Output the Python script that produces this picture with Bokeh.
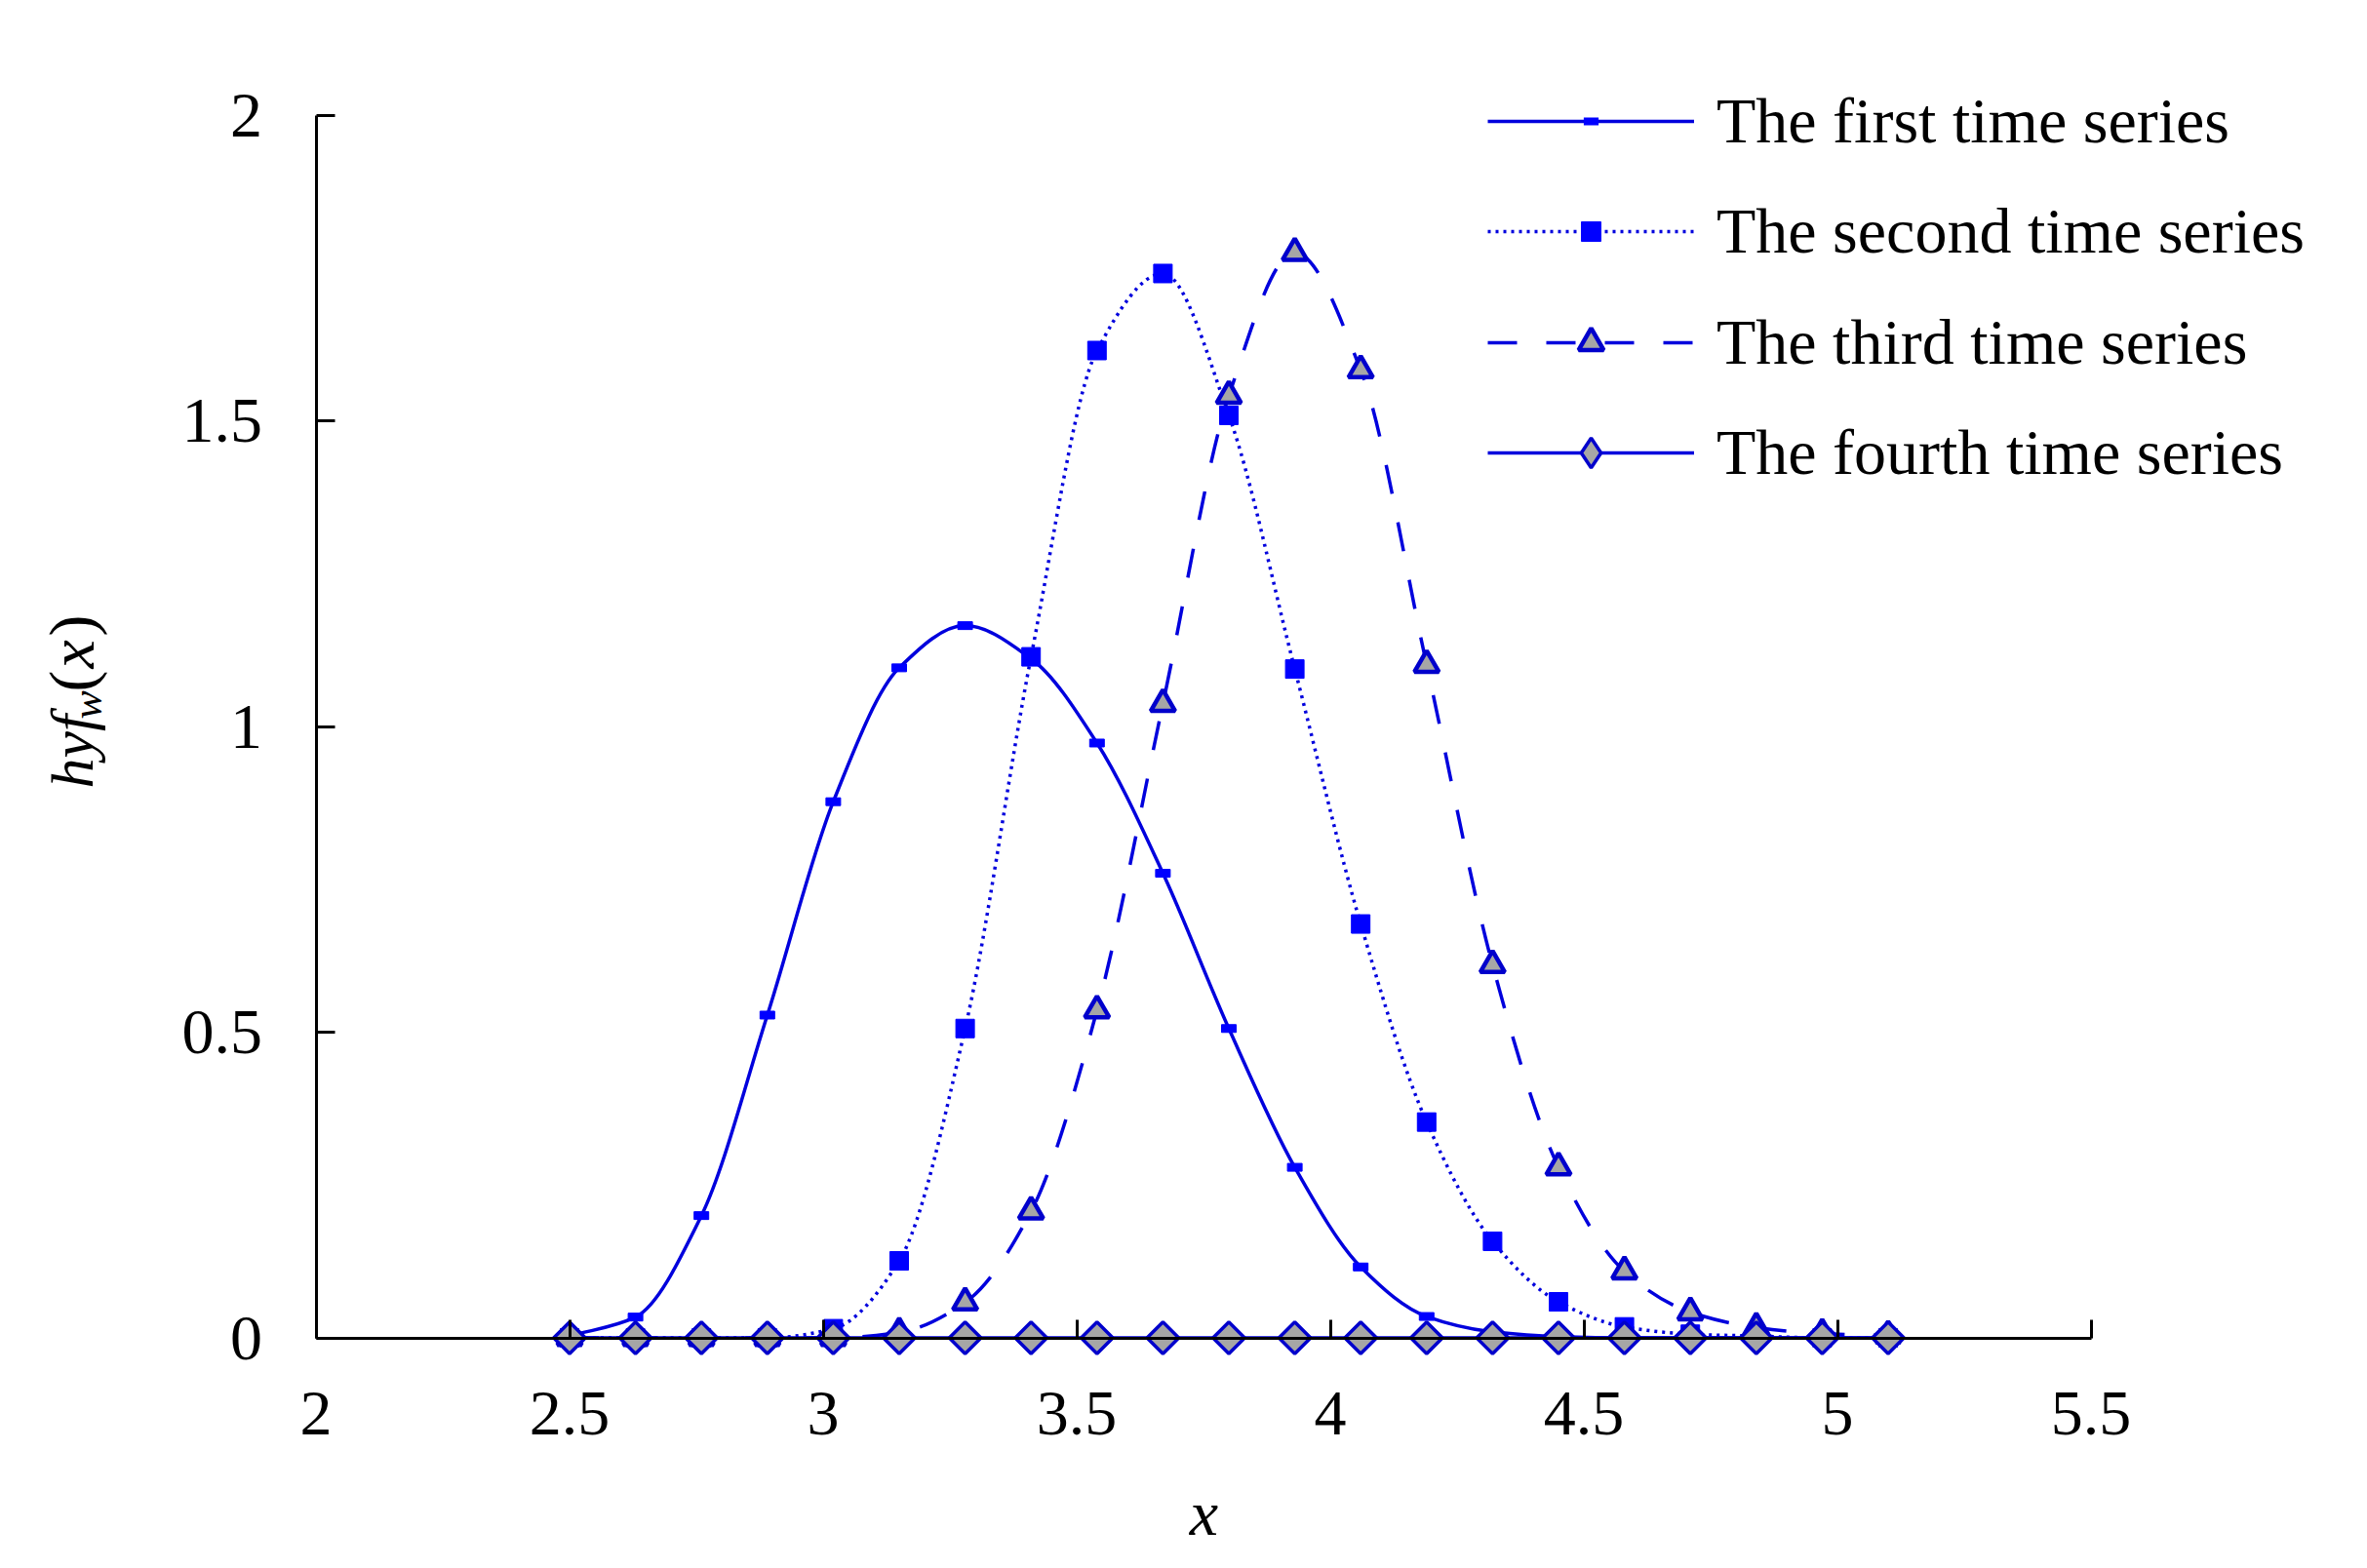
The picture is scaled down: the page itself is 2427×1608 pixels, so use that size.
import numpy as np
from bokeh.plotting import figure
from bokeh.models import Range1d, FixedTicker, Legend, LegendItem, Label, ColumnDataSource
from bokeh.embed import file_html
from bokeh.resources import INLINE

# ---------------- data ----------------
x_vals = [2.50, 2.63, 2.76, 2.89, 3.02, 3.15, 3.28, 3.41, 3.54, 3.67, 3.80,
          3.93, 4.06, 4.19, 4.32, 4.45, 4.58, 4.71, 4.84, 4.97, 5.10]
series1 = [0.003, 0.034, 0.200, 0.528, 0.877, 1.096, 1.165, 1.111, 0.973, 0.760, 0.506,
           0.279, 0.116, 0.035, 0.010, 0.002, 0.0, 0.0, 0.0, 0.0, 0.0]
series2 = [0.0, 0.0, 0.0, 0.0, 0.015, 0.126, 0.506, 1.114, 1.615, 1.741, 1.509,
           1.094, 0.677, 0.353, 0.158, 0.059, 0.018, 0.006, 0.003, 0.0, 0.0]
series3 = [0.0, 0.0, 0.0, 0.0, 0.0, 0.009, 0.058, 0.207, 0.536, 1.037, 1.541,
           1.775, 1.583, 1.101, 0.610, 0.279, 0.109, 0.042, 0.017, 0.007, 0.004]
series4 = [0.0, 0.0, 0.0, 0.0, 0.0, 0.0, 0.0, 0.0, 0.0, 0.0, 0.0,
           0.0, 0.0, 0.0, 0.0, 0.0, 0.0, 0.0, 0.0, 0.0, 0.0]
series_names = ["The first time series", "The second time series",
                "The third time series", "The fourth time series"]

x_ticks = [2, 2.5, 3, 3.5, 4, 4.5, 5, 5.5]
x_tick_labels = ["2", "2.5", "3", "3.5", "4", "4.5", "5", "5.5"]
y_ticks = [0, 0.5, 1, 1.5, 2]
y_tick_labels = ["0", "0.5", "1", "1.5", "2"]

# ---------------- style / layout ----------------
FONT = "Liberation Serif"
FS = "66px"
LINE_BLUE = "#0000dd"
MARK_BLUE = "#0000ff"
EDGE_BLUE = "#0000cc"
GRAY = "#a6a6a6"
LW = 3.5

FIG_W, FIG_H = 2410, 1590
AX_X_PX, AX_Y_PX = 323.5, 1371.5      # canvas position of the axes corner (x=2, y=0)
PX_X, PX_Y = 520.0, 626.95            # pixels per data unit
X_START = 2 - AX_X_PX / PX_X
X_END = X_START + FIG_W / PX_X
Y_END = AX_Y_PX / PX_Y
Y_START = Y_END - FIG_H / PX_Y


def smooth_segments(xs, ys, period=None):
    """Monotone cubic (Fritsch-Carlson) Bezier pieces between the data points."""
    xs = np.asarray(xs, float)
    ys = np.asarray(ys, float)
    n = len(xs)
    h = np.diff(xs)
    d = np.diff(ys) / h
    m = np.zeros(n)
    for i in range(1, n - 1):
        if d[i - 1] * d[i] > 0:
            w1 = 2 * h[i] + h[i - 1]
            w2 = h[i] + 2 * h[i - 1]
            m[i] = (w1 + w2) / (w1 / d[i - 1] + w2 / d[i])
    m[0] = d[0]
    m[-1] = d[-1]
    data = dict(x0=xs[:-1], y0=ys[:-1], x1=xs[1:], y1=ys[1:],
                cx0=xs[:-1] + h / 3, cy0=ys[:-1] + m[:-1] * h / 3,
                cx1=xs[1:] - h / 3, cy1=ys[1:] - m[1:] * h / 3)
    t = np.linspace(0, 1, 60)[:, None]
    bx = ((1 - t) ** 3 * data["x0"] + 3 * (1 - t) ** 2 * t * data["cx0"]
          + 3 * (1 - t) * t ** 2 * data["cx1"] + t ** 3 * data["x1"]) * PX_X
    by = ((1 - t) ** 3 * data["y0"] + 3 * (1 - t) ** 2 * t * data["cy0"]
          + 3 * (1 - t) * t ** 2 * data["cy1"] + t ** 3 * data["y1"]) * PX_Y
    seg_len = np.sqrt(np.diff(bx, axis=0) ** 2 + np.diff(by, axis=0) ** 2).sum(axis=0)
    start = np.concatenate([[0.0], np.cumsum(seg_len)[:-1]])
    if period:
        data["off"] = [int(round(v)) for v in np.mod(start, period)]
    else:
        data["off"] = [0] * (n - 1)
    return ColumnDataSource(data)


p = figure(frame_width=FIG_W, frame_height=FIG_H,
           min_border_left=0, min_border_top=0, min_border_right=0, min_border_bottom=0,
           x_range=Range1d(X_START, X_END), y_range=Range1d(Y_START, Y_END),
           output_backend="svg", toolbar_location=None,
           background_fill_color="white", border_fill_color="white")
p.outline_line_color = None
p.grid.visible = False

# ---------------- axes ----------------
xa = p.xaxis[0]
xa.fixed_location = 0
xa.bounds = (2, 5.5)
xa.ticker = FixedTicker(ticks=x_ticks)
xa.major_label_overrides = dict(zip(x_ticks, x_tick_labels))
xa.axis_label = "x"
xa.axis_label_text_font = FONT
xa.axis_label_text_font_style = "italic"
xa.axis_label_text_font_size = FS
xa.axis_label_text_color = "black"
xa.axis_label_standoff = 40
ya = p.yaxis[0]
ya.fixed_location = 2
ya.bounds = (0, 2)
ya.ticker = FixedTicker(ticks=y_ticks)
ya.major_label_overrides = dict(zip(y_ticks, y_tick_labels))
for ax in (xa, ya):
    ax.axis_line_width = 3
    ax.axis_line_color = "black"
    ax.major_tick_line_width = 3
    ax.major_tick_line_color = "black"
    ax.major_tick_in = 19
    ax.major_tick_out = 0
    ax.minor_tick_line_color = None
    ax.major_label_text_font = FONT
    ax.major_label_text_font_size = FS
    ax.major_label_text_color = "black"
xa.major_label_standoff = 56
ya.major_label_standoff = 55


def add_curve(ys, dash, period):
    src = smooth_segments(x_vals, ys, period)
    kw = dict(x0="x0", y0="y0", x1="x1", y1="y1", cx0="cx0", cy0="cy0",
              cx1="cx1", cy1="cy1", source=src, line_color=LINE_BLUE, line_width=LW)
    try:
        p.bezier(line_dash=dash, line_dash_offset="off", **kw)
    except Exception:
        p.bezier(line_dash=dash, **kw)
    # legend sample line (a single empty point, nothing is drawn in the plot)
    return p.line(x=[np.nan], y=[np.nan], line_color=LINE_BLUE, line_width=LW,
                  line_dash=dash)


leg1 = add_curve(series1, "solid", None)
p.rect(x=x_vals, y=series1, width=15, height=8, width_units="screen",
       height_units="screen", fill_color=MARK_BLUE, line_color=MARK_BLUE, line_width=1)
mk1 = p.scatter(x=[np.nan], y=[np.nan], marker="dash", line_width=8, line_color=MARK_BLUE)

leg2 = add_curve(series2, "3 5", 8)
mk2 = p.scatter(x_vals, series2, marker="square", size=19, fill_color=MARK_BLUE,
                line_color=MARK_BLUE, line_width=1)

leg3 = add_curve(series3, "30 30", 60)
mk3 = p.scatter(x_vals, series3, marker="triangle", size=25, fill_color=GRAY,
                line_color=EDGE_BLUE, line_width=4.5)

leg4 = add_curve(series4, "solid", None)
p.scatter(x_vals, series4, marker="square", angle=np.pi / 4, size=23,
          fill_color=GRAY, line_color=EDGE_BLUE, line_width=3.5)
mk4 = p.scatter(x=[np.nan], y=[np.nan], marker="diamond", fill_color=GRAY,
                line_color=EDGE_BLUE, line_width=3.5)

# one legend per row, so that each row can have its own marker size
legend_rows = [(series_names[0], [leg1, mk1], 38, 124),
               (series_names[1], [leg2, mk2], 50, 237),
               (series_names[2], [leg3, mk3], 64, 351),
               (series_names[3], [leg4, mk4], 76, 464)]
ROW_H = 82
for name, rends, gh, cy in legend_rows:
    lg = Legend(items=[LegendItem(label=name, renderers=rends)],
                location=(1525, FIG_H - cy - ROW_H / 2),
                glyph_width=212, glyph_height=gh, label_height=ROW_H,
                label_standoff=23, spacing=0, padding=0, margin=0,
                border_line_color=None, background_fill_alpha=0,
                label_text_font=FONT, label_text_font_size=FS,
                label_text_color="black")
    p.add_layout(lg)

# ---------------- y title hyf_w(x), built from rotated pieces ----------------
base_x = 73 - AX_X_PX       # baseline of the rotated y title
start_y = AX_Y_PX - 808     # where the title starts, px above y = 0
pieces = [("hyf", "italic", "62px", 0, 0),
          ("w", "italic", "44px", 71, 16),
          ("(", "normal", FS, 99, 0),
          ("x", "italic", FS, 123, 0),
          (")", "normal", FS, 156, 0)]
for txt, style, size, along, shift in pieces:
    p.add_layout(Label(x=2, y=0, x_offset=base_x + shift, y_offset=start_y + along,
                       text=txt, angle=np.pi / 2, text_font=FONT,
                       text_font_style=style, text_font_size=size,
                       text_align="left", text_baseline="alphabetic",
                       text_color="black"))

open("out.html", "w").write(file_html(p, INLINE))
